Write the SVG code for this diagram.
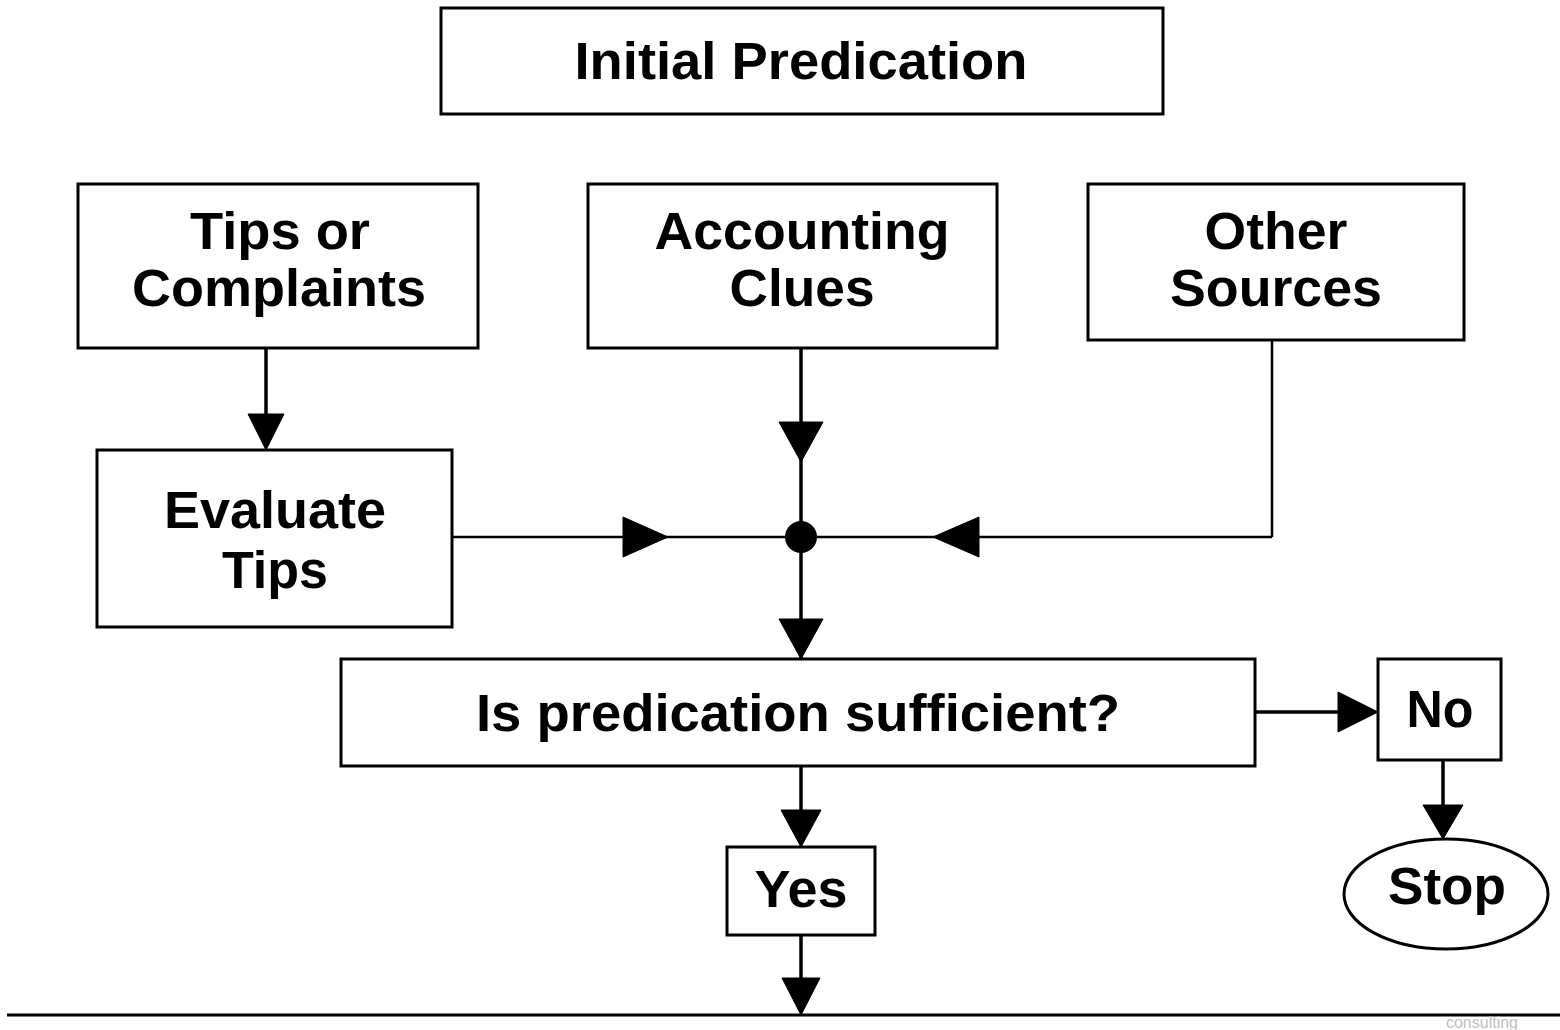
<svg xmlns="http://www.w3.org/2000/svg" width="1560" height="1030" viewBox="0 0 1560 1030">
<style>
.box{fill:#fff;stroke:#000;stroke-width:3}
.t{font-family:"Liberation Sans",Arial,sans-serif;font-weight:bold;font-size:51px;fill:#000;text-anchor:middle}
.ln{fill:none;stroke:#000;stroke-width:3.5}
.thin{fill:none;stroke:#000;stroke-width:2.5}
.ah{fill:#000;stroke:#000;stroke-width:1;stroke-linejoin:round}
</style>
<rect width="1560" height="1030" fill="#fff"/>
<g id="connectors">
<line class="ln" x1="266" y1="348" x2="266" y2="420"/>
<polygon class="ah" points="248,414 284,414 266,450"/>
<line class="ln" x1="801" y1="348" x2="801" y2="659"/>
<polygon class="ah" points="779,422 823,422 801,462"/>
<line class="thin" x1="452" y1="537" x2="1272" y2="537"/>
<polygon class="ah" points="623,517 623,557 668,537"/>
<polyline class="thin" points="1272,340 1272,537"/>
<polygon class="ah" points="979,517 979,557 933,537"/>
<circle cx="801" cy="537" r="16" fill="#000"/>
<polygon class="ah" points="779,619 823,619 801,659"/>
<line class="ln" x1="1255" y1="712" x2="1345" y2="712"/>
<polygon class="ah" points="1338,692 1338,732 1378,712"/>
<line class="ln" x1="1443" y1="760" x2="1443" y2="810"/>
<polygon class="ah" points="1423,805 1463,805 1443,839"/>
<line class="ln" x1="801" y1="766" x2="801" y2="815"/>
<polygon class="ah" points="781,810 821,810 801,847"/>
<line class="ln" x1="801" y1="935" x2="801" y2="985"/>
<polygon class="ah" points="782,978 820,978 801,1015"/>
<line x1="7" y1="1015" x2="1560" y2="1015" stroke="#000" stroke-width="3"/>
</g>
<g id="initial">
<rect class="box" x="441" y="8" width="722" height="106"/>
<text class="t" x="801" y="79" textLength="453" lengthAdjust="spacingAndGlyphs">Initial Predication</text>
</g>
<g id="tips">
<rect class="box" x="78" y="184" width="400" height="164"/>
<text class="t" x="280" y="249" textLength="180" lengthAdjust="spacingAndGlyphs">Tips or</text>
<text class="t" x="279" y="306" textLength="294" lengthAdjust="spacingAndGlyphs">Complaints</text>
</g>
<g id="accounting">
<rect class="box" x="588" y="184" width="409" height="164"/>
<text class="t" x="802" y="249" textLength="295" lengthAdjust="spacingAndGlyphs">Accounting</text>
<text class="t" x="802" y="306" textLength="145" lengthAdjust="spacingAndGlyphs">Clues</text>
</g>
<g id="other">
<rect class="box" x="1088" y="184" width="376" height="156"/>
<text class="t" x="1276" y="249" textLength="143" lengthAdjust="spacingAndGlyphs">Other</text>
<text class="t" x="1276" y="306" textLength="212" lengthAdjust="spacingAndGlyphs">Sources</text>
</g>
<g id="evaluate">
<rect class="box" x="97" y="450" width="355" height="177"/>
<text class="t" x="275" y="528" textLength="222" lengthAdjust="spacingAndGlyphs">Evaluate</text>
<text class="t" x="275" y="588" textLength="106" lengthAdjust="spacingAndGlyphs">Tips</text>
</g>
<g id="sufficient">
<rect class="box" x="341" y="659" width="914" height="107"/>
<text class="t" x="798" y="731" textLength="644" lengthAdjust="spacingAndGlyphs">Is predication sufficient?</text>
</g>
<g id="no">
<rect class="box" x="1378" y="659" width="123" height="101"/>
<text class="t" x="1440" y="727" textLength="67" lengthAdjust="spacingAndGlyphs">No</text>
</g>
<g id="yes">
<rect class="box" x="727" y="847" width="148" height="88"/>
<text class="t" x="801" y="907" textLength="93" lengthAdjust="spacingAndGlyphs">Yes</text>
</g>
<g id="stop">
<ellipse class="box" cx="1446" cy="894" rx="102" ry="55"/>
<text class="t" x="1447" y="904" textLength="118" lengthAdjust="spacingAndGlyphs">Stop</text>
</g>
<text x="1482" y="1028" font-family="'Liberation Sans',Arial,sans-serif" font-size="16" fill="#c0c0c0" text-anchor="middle">consulting</text>
</svg>
